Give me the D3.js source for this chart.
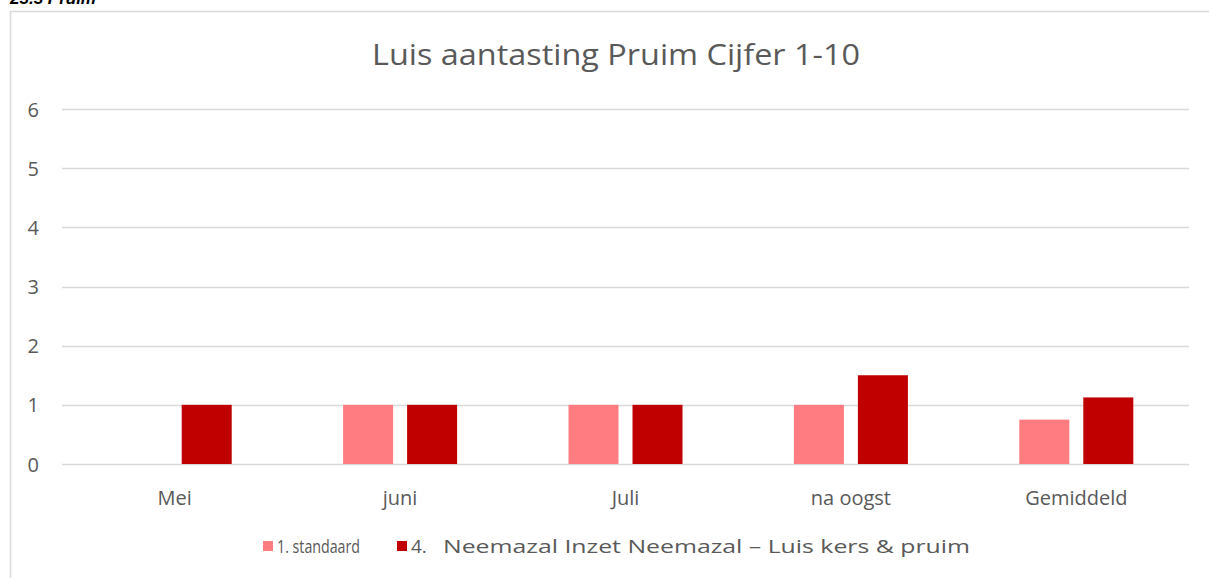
<!DOCTYPE html>
<html>
<head>
<meta charset="utf-8">
<script src="https://cdn.jsdelivr.net/npm/d3@7"></script>
<style>
  body { margin: 0; background: #fff; }
  svg { display: block; }
  text { font-family: "Open Sans", "Noto Sans", sans-serif; }
</style>
</head>
<body>
<svg id="chart" width="1209" height="578"></svg>
<script>
const categories = ['Mei', 'juni', 'Juli', 'na oogst', 'Gemiddeld'];
const seriesNames = ['1. standaard', 'Neemazal Inzet Neemazal \u2013 Luis kers & pruim'];
const standaard = [0, 1, 1, 1, 0.75];
const neemazal = [1, 1, 1, 1.5, 1.125];
const yTicks = [0, 1, 2, 3, 4, 5, 6];
const colors = ['#ff7c80', '#c00000'];

const svg = d3.select('svg#chart');

// heading from the page above, cut off at the top
svg.append('text')
  .attr('x', 10).attr('y', 4)
  .style('font-family', '"Liberation Sans", Arial, sans-serif')
  .style('font-size', '17px').style('font-weight', 'bold').style('font-style', 'italic')
  .attr('fill', '#000')
  .text('23.3 Pruim');

// chart frame
svg.append('path')
  .attr('d', 'M10.5,578 V11.5 H1209')
  .attr('fill', 'none').attr('stroke', '#d9d9d9').attr('stroke-width', 1.5);

const x = d3.scaleBand().domain(categories).range([62, 1189]);
const y = d3.scaleLinear().domain([0, 6]).range([464, 109]);

svg.append('g').selectAll('line').data(yTicks)
  .enter().append('line')
    .attr('x1', 62).attr('x2', 1189)
    .attr('y1', d => Math.round(y(d)) + 0.5)
    .attr('y2', d => Math.round(y(d)) + 0.5)
    .attr('stroke', '#d9d9d9').attr('stroke-width', 1.3);

svg.append('g').selectAll('text').data(yTicks)
  .enter().append('text')
    .attr('x', 39).attr('y', d => y(d) + 7.5)
    .attr('text-anchor', 'end')
    .style('font-size', '20px').attr('fill', '#595959')
    .text(d => d);

svg.append('g').selectAll('text').data(categories)
  .enter().append('text')
    .attr('x', d => x(d) + x.bandwidth() / 2).attr('y', 505)
    .attr('text-anchor', 'middle')
    .style('font-size', '20px').attr('fill', '#595959')
    .text(d => d);

const barW = 50, gap = 14;
[standaard, neemazal].forEach((vals, i) => {
  svg.append('g').selectAll('rect').data(vals.map((v, j) => ({ c: categories[j], v })))
    .enter().append('rect')
      .attr('x', d => x(d.c) + x.bandwidth() / 2 + (i === 0 ? -gap / 2 - barW : gap / 2))
      .attr('y', d => y(d.v))
      .attr('width', barW)
      .attr('height', d => y(0) - y(d.v))
      .attr('fill', colors[i]);
});

svg.append('text')
  .attr('x', 616).attr('y', 65)
  .attr('text-anchor', 'middle')
  .attr('textLength', 488).attr('lengthAdjust', 'spacingAndGlyphs')
  .style('font-size', '29px').attr('fill', '#595959')
  .text('Luis aantasting Pruim Cijfer 1-10');

// legend
const lg = svg.append('g');
[263, 397].forEach((lx, i) => {
  lg.append('rect').attr('x', lx).attr('y', 541).attr('width', 10).attr('height', 10).attr('fill', colors[i]);
});
lg.append('text').attr('x', 277).attr('y', 553)
  .attr('textLength', 83).attr('lengthAdjust', 'spacingAndGlyphs')
  .style('font-size', '19px').attr('fill', '#595959').text(seriesNames[0]);
lg.append('text').attr('x', 411).attr('y', 553)
  .style('font-size', '19px').attr('fill', '#595959').text('4.');
lg.append('text').attr('x', 443).attr('y', 553)
  .attr('textLength', 527).attr('lengthAdjust', 'spacingAndGlyphs')
  .style('font-size', '19px').attr('fill', '#595959').text(seriesNames[1]);
</script>
</body>
</html>
